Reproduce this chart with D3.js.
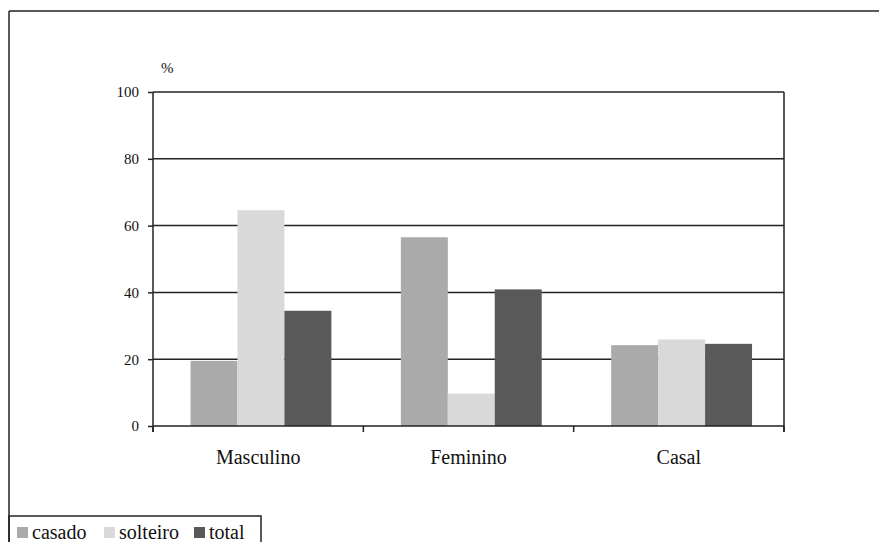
<!DOCTYPE html>
<html><head><meta charset="utf-8">
<script src="https://cdn.jsdelivr.net/npm/d3@7"></script>
<style>body{margin:0;background:#fff}svg{display:block}text{font-family:"Liberation Serif","Times New Roman","DejaVu Serif",serif !important}</style>
</head><body><svg id="c" width="879" height="542"></svg>
<script>
const categories = ["Masculino","Feminino","Casal"];
const seriesNames = ["casado","solteiro","total"];
const casado = [19.5, 56.5, 24.2];
const solteiro = [64.6, 9.7, 25.9];
const total = [34.5, 40.9, 24.6];
const yTicks = [0,20,40,60,80,100];
const colors = ["#aaaaaa","#d9d9d9","#595959"];

const svg = d3.select("#c");
const x0 = 153, x1 = 784, yTop = 92, yBot = 426;
const x = d3.scaleBand().domain(categories).range([x0,x1]).paddingInner(0).paddingOuter(0);
const xs = d3.scaleBand().domain(seriesNames).range([0,x.bandwidth()]).paddingInner(0).paddingOuter(0.74).align(0.54);
const y = d3.scaleLinear().domain([0,100]).range([yBot,yTop]);
const data = [casado, solteiro, total];

// outer frame
svg.append("line").attr("x1",9).attr("x2",879).attr("y1",11).attr("y2",11).attr("stroke","#222").attr("stroke-width",1.5);
svg.append("line").attr("x1",9).attr("x2",9).attr("y1",11).attr("y2",542).attr("stroke","#222").attr("stroke-width",1.5);

// gridlines
svg.append("g").selectAll("line").data(yTicks.filter(d=>d>0)).join("line")
  .attr("x1",x0).attr("x2",x1).attr("y1",d=>y(d)).attr("y2",d=>y(d))
  .attr("stroke","#222").attr("stroke-width",1.5);

// bars
categories.forEach((c,i)=>{
  seriesNames.forEach((s,j)=>{
    svg.append("rect").attr("x",x(c)+xs(s)).attr("width",xs.bandwidth())
      .attr("y",y(data[j][i])).attr("height",yBot-y(data[j][i]))
      .attr("fill",colors[j]);
  });
});

// right border
svg.append("line").attr("x1",x1).attr("x2",x1).attr("y1",yTop).attr("y2",yBot+6).attr("stroke","#222").attr("stroke-width",1.5);

// y axis
const ya = d3.axisLeft(y).tickValues(yTicks).tickSize(5).tickPadding(9);
const yg = svg.append("g").attr("transform",`translate(${x0},0)`).call(ya);
yg.attr("font-family",null);
yg.select(".domain").attr("d",`M0,${yTop}V${yBot+6}`).attr("stroke","#222").attr("stroke-width",1.5);
yg.selectAll(".tick line").attr("stroke","#222").attr("stroke-width",1.5);
yg.selectAll("text").attr("font-size",15).attr("fill","#111");

// x axis
const xa = d3.axisBottom(x).tickSize(0).tickPadding(0);
const xg = svg.append("g").attr("transform",`translate(0,${yBot})`).call(xa);
xg.attr("font-family",null);
xg.select(".domain").attr("d",`M${x0},0H${x1}`).attr("stroke","#222").attr("stroke-width",1.5);
xg.selectAll("text").attr("font-size",20).attr("fill","#111").attr("y",38).attr("dy",0);
// category separator ticks
const bounds = categories.map(c=>x(c)).concat([x1]);
svg.append("g").selectAll("line").data(bounds).join("line")
  .attr("x1",d=>d).attr("x2",d=>d).attr("y1",yBot).attr("y2",yBot+6)
  .attr("stroke","#222").attr("stroke-width",1.5);

// % label
svg.append("text").attr("x",161).attr("y",73).attr("font-size",15).attr("fill","#111").text("%");

// legend
svg.append("rect").attr("x",9).attr("y",516).attr("width",252).attr("height",30)
  .attr("fill","none").attr("stroke","#222").attr("stroke-width",1.5);
const legX = [17, 104, 194];
seriesNames.forEach((s,j)=>{
  svg.append("rect").attr("x",legX[j]).attr("y",527).attr("width",11).attr("height",11).attr("fill",colors[j]);
  svg.append("text").attr("x",legX[j]+15).attr("y",539).attr("font-size",20).attr("fill","#111").text(s);
});
</script></body></html>
